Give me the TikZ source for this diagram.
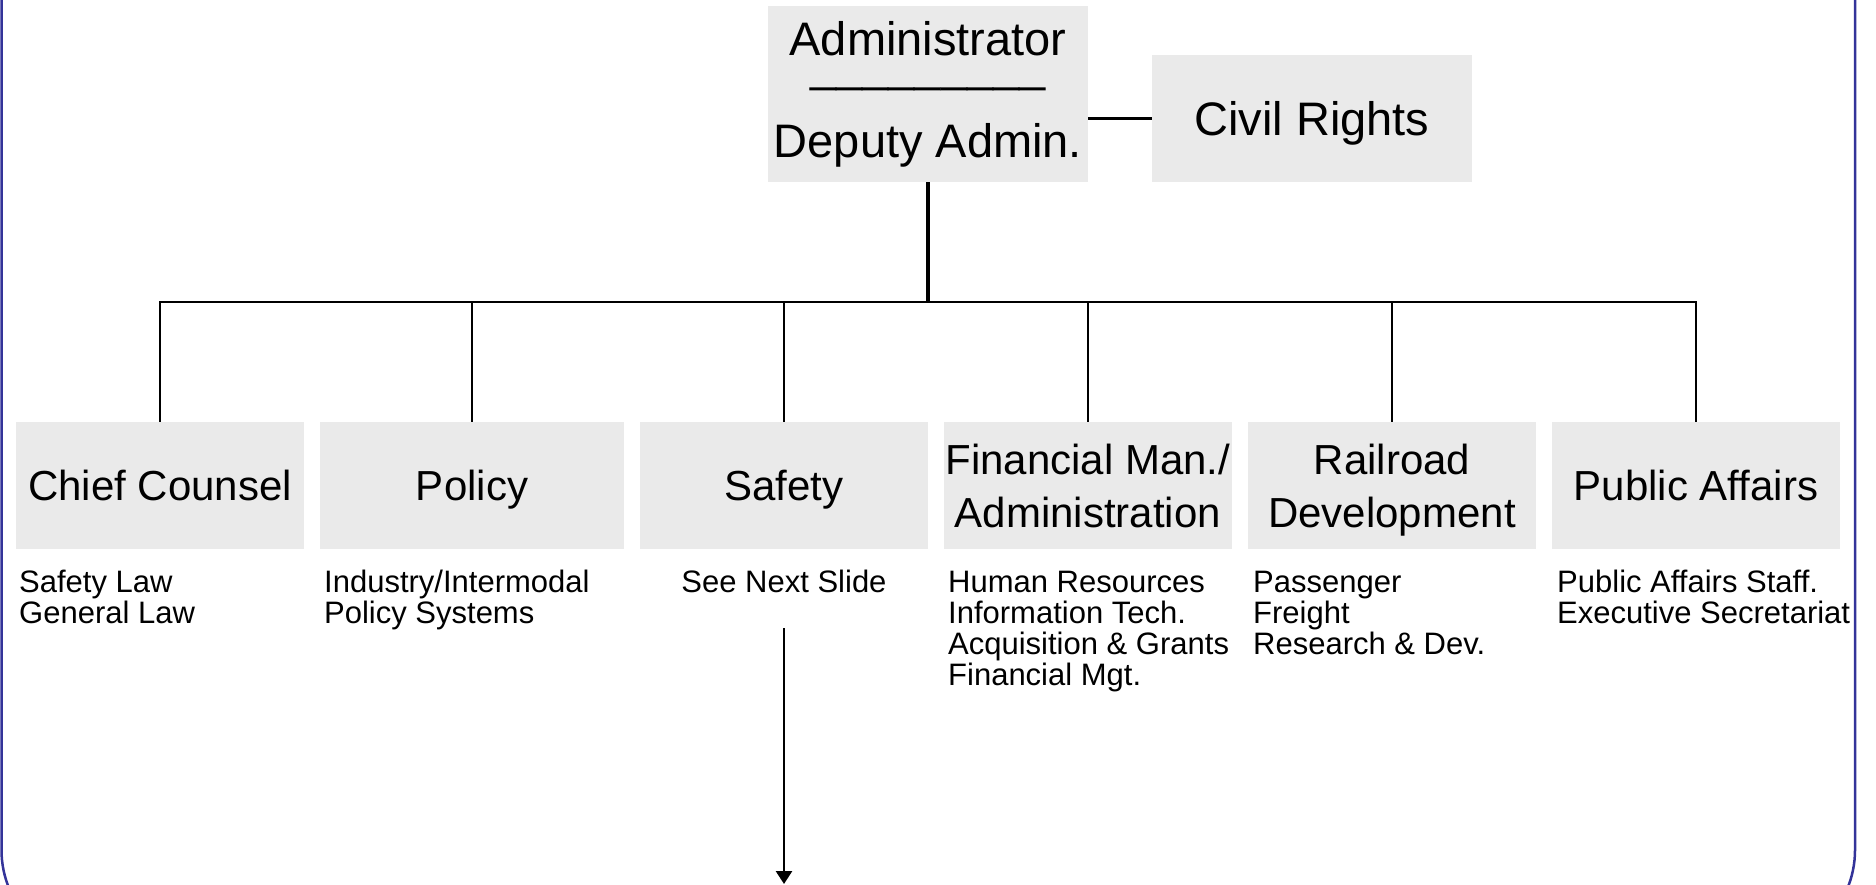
\documentclass[tikz,border=0pt]{standalone}
\usepackage{fontspec}
\setmainfont{Liberation Sans}
\usetikzlibrary{arrows.meta}
\definecolor{boxgray}{RGB}{234,234,234}
\definecolor{frameblue}{RGB}{51,51,153}
\newcommand{\sublines}[1]{\vtop{\baselineskip=31pt\lineskiplimit=-100pt\halign{##\hfil\cr#1\crcr}}}
\begin{document}
\begin{tikzpicture}[x=1pt,y=-1pt,
  topbox/.style={fill=boxgray, draw=none, inner sep=0pt, minimum width=320pt, minimum height=127pt,
    font=\fontsize{47}{52}\selectfont, text height=34pt, text depth=0pt},
  toplabel/.style={anchor=base, inner sep=0pt, font=\fontsize{47}{52}\selectfont},
  unitbox/.style={fill=boxgray, draw=none, inner sep=0pt, minimum width=288pt, minimum height=127pt,
    align=center, font=\fontsize{42}{53}\selectfont, text height=30pt, text depth=0pt},
  twoline/.style={text height=83pt, text depth=0pt},
  subtext/.style={anchor=base west, inner sep=0pt, font=\fontsize{31}{31}\selectfont},
  link/.style={line width=2.5pt},
  trunk/.style={line width=4.5pt},
  pointer/.style={line width=2.7pt, -{Triangle[width=16pt,length=13pt]}},
  frame/.style={draw=frameblue, line width=2.5pt, rounded corners=100pt}
]
\path[use as bounding box, fill=white] (0,0) rectangle (1876,884);
\begin{scope}
  \clip (0,0) rectangle (1876,884);
  \draw[frame] (1.5,-300) rectangle (1855,950);
\end{scope}

% top
\node[topbox, minimum height=176pt] (admin) at (928,94) {};
\node[toplabel] (adminA) at (928,55) {Administrator};
\node[toplabel] (adminL) at (928,81) {\_\_\_\_\_\_\_\_\_};
\node[toplabel] (adminD) at (928,157) {Deputy Admin.};
\node[topbox] (civil) at (1312,118.5) {Civil Rights};

% units
\node[unitbox] (cc) at (160,485.5) {Chief Counsel};
\node[unitbox, minimum width=304pt] (pol) at (472,485.5) {Policy};
\node[unitbox] (saf) at (784,485.5) {Safety};
\node[unitbox, twoline] (fin) at (1088,485.5) {Financial Man./\\Administration};
\node[unitbox, twoline] (rail) at (1392,485.5) {Railroad\\Development};
\node[unitbox] (pa) at (1696,485.5) {Public Affairs};

% connectors
\coordinate (busy) at (0,302);
\draw[link] (civil.west -| admin.east) -- (civil.west);
\draw[trunk] (admin.south) -- (admin.south |- busy);
\draw[link] (cc.north) -- (cc.north |- busy) -- (pa.north |- busy) -- (pa.north);
\draw[link] (pol.north |- busy) -- (pol.north);
\draw[link] (saf.north |- busy) -- (saf.north);
\draw[link] (fin.north |- busy) -- (fin.north);
\draw[link] (rail.north |- busy) -- (rail.north);

% sub texts
\node[subtext] (ccsub) at (19,592) {\sublines{Safety Law\cr General Law}};
\node[subtext] (polsub) at (324,592) {\sublines{Industry/Intermodal\cr Policy Systems}};
\node[subtext, anchor=base] (safsub) at (784,592) {See Next Slide};
\node[subtext] (finsub) at (948,592) {\sublines{Human Resources\cr Information Tech.\cr Acquisition \& Grants\cr Financial Mgt.}};
\node[subtext] (railsub) at (1253,592) {\sublines{Passenger\cr Freight\cr Research \& Dev.}};
\node[subtext] (pasub) at (1557,592) {\sublines{Public Affairs Staff.\cr Executive Secretariat}};

% arrow
\coordinate (arrS) at (784,628);
\coordinate (arrE) at (784,884);
\draw[pointer] (arrS) -- (arrE);
\end{tikzpicture}
\end{document}
